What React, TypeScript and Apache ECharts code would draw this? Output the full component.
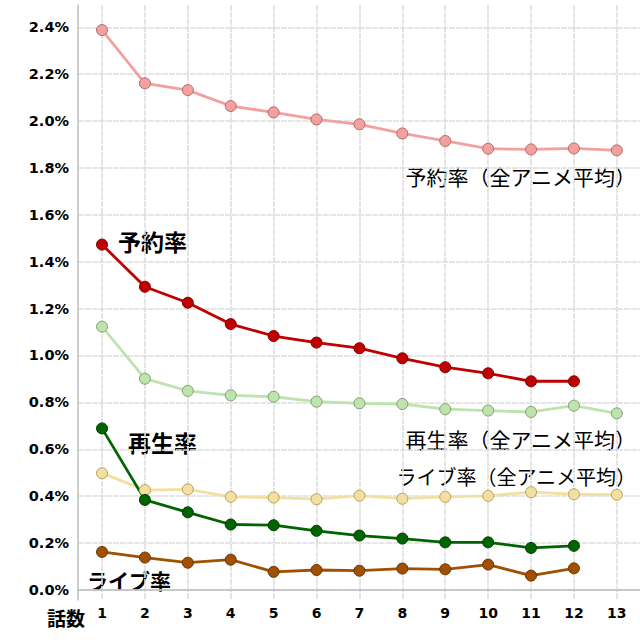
import React, { useEffect, useRef } from "react";
import * as echarts from "echarts";

const episodes = [1, 2, 3, 4, 5, 6, 7, 8, 9, 10, 11, 12, 13];
const yTicks = [0, 0.2, 0.4, 0.6, 0.8, 1.0, 1.2, 1.4, 1.6, 1.8, 2.0, 2.2, 2.4];

// values in percent
const reserveAvg = [2.388, 2.161, 2.132, 2.064, 2.037, 2.007, 1.986, 1.947, 1.915, 1.882, 1.879, 1.883, 1.875];
const reserve = [1.473, 1.293, 1.225, 1.134, 1.083, 1.055, 1.031, 0.988, 0.95, 0.924, 0.89, 0.89];
const playAvg = [1.123, 0.901, 0.849, 0.83, 0.824, 0.803, 0.796, 0.793, 0.771, 0.765, 0.759, 0.786, 0.753];
const play = [0.689, 0.384, 0.331, 0.279, 0.276, 0.252, 0.232, 0.219, 0.203, 0.203, 0.179, 0.188];
const liveAvg = [0.498, 0.426, 0.429, 0.397, 0.394, 0.387, 0.402, 0.389, 0.397, 0.401, 0.417, 0.408, 0.406];
const live = [0.162, 0.138, 0.116, 0.129, 0.077, 0.085, 0.082, 0.091, 0.088, 0.108, 0.061, 0.092];

const seriesDefs = [
  { name: "予約率（全アニメ平均）", data: reserveAvg, line: "#f2a0a0", fill: "#f2a0a0", border: "#b86868" },
  { name: "再生率（全アニメ平均）", data: playAvg, line: "#bfe3ad", fill: "#bfe3ad", border: "#7fa070" },
  { name: "ライブ率（全アニメ平均）", data: liveAvg, line: "#f2e0a0", fill: "#f2e0a0", border: "#b8a060" },
  { name: "予約率", data: reserve, line: "#c00000", fill: "#c00000", border: "#7a0000" },
  { name: "再生率", data: play, line: "#006400", fill: "#006400", border: "#003a00" },
  { name: "ライブ率", data: live, line: "#a05000", fill: "#a05000", border: "#6a3500" },
];

const CJK = "'Noto Sans CJK JP', 'Noto Sans', sans-serif";
const NUM = "'DejaVu Sans', Verdana, sans-serif";

export default function App() {
  const ref = useRef<HTMLDivElement>(null);
  useEffect(() => {
    if (!ref.current) return;
    const chart = echarts.init(ref.current, null, { renderer: "svg" });
    const gridLine = { show: true, lineStyle: { color: "#dedede", width: 1.6, type: [6, 1] as any } };
    chart.setOption({
      animation: false,
      backgroundColor: "#ffffff",
      grid: { left: 78, right: 0, top: 5, bottom: 40, containLabel: false },
      xAxis: {
        type: "value",
        min: 0.44,
        max: 13.54,
        axisLine: { show: true, lineStyle: { color: "#bdbdbd", width: 1.5 } },
        axisTick: { show: false, customValues: episodes },
        splitLine: gridLine,
        axisLabel: {
          customValues: episodes,
          color: "#000",
          fontFamily: NUM,
          fontWeight: "bold",
          fontSize: 14,
          margin: 6,
        },
      },
      yAxis: {
        type: "value",
        min: -0.043,
        max: 2.495,
        axisLine: { show: true, lineStyle: { color: "#bdbdbd", width: 1.5 } },
        axisTick: { show: false, customValues: yTicks },
        splitLine: gridLine,
        axisLabel: {
          customValues: yTicks,
          formatter: (v: number) => v.toFixed(1) + "%",
          color: "#000",
          fontFamily: NUM,
          fontWeight: "bold",
          fontSize: 14.5,
          margin: 9,
        },
      },
      series: seriesDefs.map((s) => ({
        name: s.name,
        type: "line",
        data: s.data.map((v, i) => [episodes[i], v]),
        symbol: "circle",
        symbolSize: 11,
        lineStyle: { color: s.line, width: 2.8 },
        itemStyle: { color: s.fill, borderColor: s.border, borderWidth: 1 },
        z: 3,
      })),
      graphic: [
        { type: "text", x: 118, y: 241, style: { text: "予約率", font: `bold 23px ${CJK}`, fill: "#000", verticalAlign: "middle" } },
        { type: "text", x: 128, y: 442, style: { text: "再生率", font: `bold 23px ${CJK}`, fill: "#000", verticalAlign: "middle" } },
        { type: "text", x: 87, y: 580, style: { text: "ライブ率", font: `bold 21px ${CJK}`, fill: "#000", verticalAlign: "middle" } },
        { type: "text", x: 636, y: 176, style: { text: "予約率（全アニメ平均）", font: `21px ${CJK}`, fill: "#000", align: "right", verticalAlign: "middle" } },
        { type: "text", x: 636, y: 439, style: { text: "再生率（全アニメ平均）", font: `21px ${CJK}`, fill: "#000", align: "right", verticalAlign: "middle" } },
        { type: "text", x: 636, y: 476, style: { text: "ライブ率（全アニメ平均）", font: `20px ${CJK}`, fill: "#000", align: "right", verticalAlign: "middle" } },
        { type: "text", x: 47, y: 617, style: { text: "話数", font: `bold 19px ${CJK}`, fill: "#000", verticalAlign: "middle" } },
      ],
    });
    return () => chart.dispose();
  }, []);
  return <div ref={ref} style={{ width: 640, height: 640, position: "absolute", left: 0, top: 0 }} />;
}
